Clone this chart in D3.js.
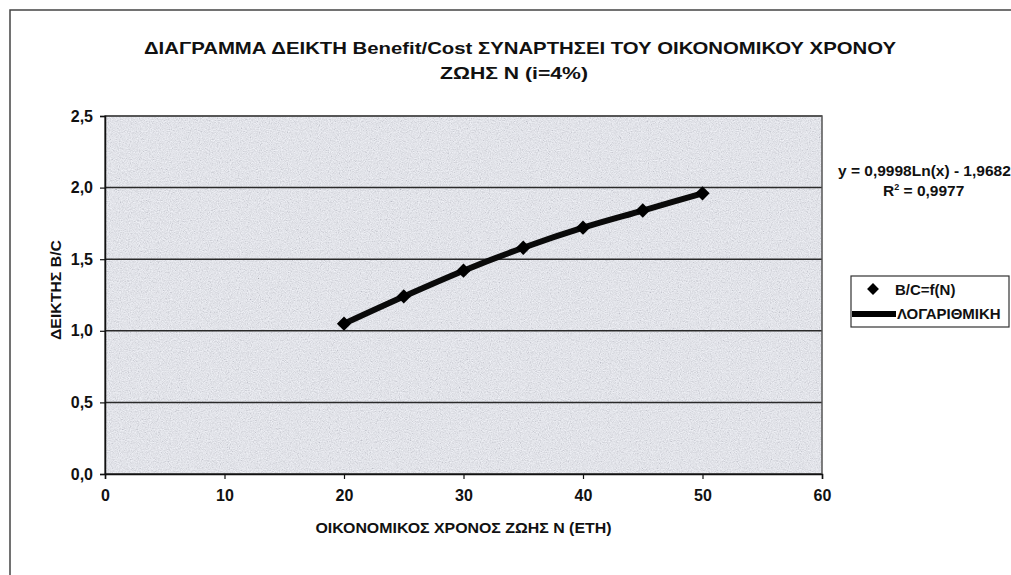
<!DOCTYPE html>
<html>
<head>
<meta charset="utf-8">
<script src="https://cdn.jsdelivr.net/npm/d3@7"></script>
<style>
  body { margin: 0; background: #fff; }
  svg { display: block; font-family: "Liberation Sans", Arial, sans-serif; }
  .tick text { font-weight: bold; font-size: 16px; fill: #111; }
  .axis-label { font-weight: bold; font-size: 14px; fill: #111; }
</style>
</head>
<body>
<div id="chart"></div>
<script>
// Data
var years = [20, 25, 30, 35, 40, 45, 50];
var bcValues = [1.05, 1.24, 1.42, 1.58, 1.72, 1.84, 1.96];
var xTicks = [0, 10, 20, 30, 40, 50, 60];
var yTicks = [0, 0.5, 1.0, 1.5, 2.0, 2.5];
var titleLines = ["ΔΙΑΓΡΑΜΜΑ ΔΕΙΚΤΗ Benefit/Cost ΣΥΝΑΡΤΗΣΕΙ ΤΟΥ ΟΙΚΟΝΟΜΙΚΟΥ ΧΡΟΝΟΥ", "ΖΩΗΣ Ν (i=4%)"];
var seriesNames = ["B/C=f(N)", "ΛΟΓΑΡΙΘΜΙΚΗ"];
var equation = "y = 0,9998Ln(x) - 1,9682";
var rSquared = "0,9977";

var points = years.map(function(d, i) { return { n: d, bc: bcValues[i] }; });

// Dimensions
var svgWidth = 1011, svgHeight = 575,
    margin = { top: 116, right: 189, bottom: 101, left: 105 },
    width = svgWidth - margin.left - margin.right,
    height = svgHeight - margin.top - margin.bottom;

// comma decimal, as in the original
var locale = d3.formatLocale({ decimal: ",", thousands: ".", grouping: [3], currency: ["", "€"] });

var svg = d3.select("#chart").append("svg")
    .attr("width", svgWidth)
    .attr("height", svgHeight);

// speckled background texture of the plot area
var defs = svg.append("defs");
var filter = defs.append("filter").attr("id", "speckle")
    .attr("x", 0).attr("y", 0).attr("width", "100%").attr("height", "100%");
filter.append("feTurbulence")
    .attr("type", "fractalNoise").attr("baseFrequency", 0.9)
    .attr("numOctaves", 2).attr("seed", 4);
filter.append("feColorMatrix")
    .attr("type", "matrix")
    .attr("values", "0.6 0.6 0.6 0 -0.35  0.6 0.6 0.6 0 -0.35  0.6 0.6 0.6 0 -0.3  0 0 0 0 0.3");

// outer chart frame (top and left edges visible)
svg.append("path")
    .attr("d", "M10,575V10H1011")
    .attr("fill", "none")
    .attr("stroke", "#444")
    .attr("stroke-width", 1.5);

var g = svg.append("g")
    .attr("transform", "translate(" + margin.left + "," + margin.top + ")");

var x = d3.scaleLinear().domain([0, 60]).range([0, width]);
var y = d3.scaleLinear().domain([0, 2.5]).range([height, 0]);

// plot area
g.append("rect")
    .attr("width", width).attr("height", height)
    .attr("fill", "#eef0f5");
g.append("rect")
    .attr("width", width).attr("height", height)
    .attr("filter", "url(#speckle)");

// gridlines
g.selectAll(".grid")
    .data(yTicks)
    .join("line")
        .attr("class", "grid")
        .attr("x1", 0).attr("x2", width)
        .attr("y1", function(d) { return y(d); })
        .attr("y2", function(d) { return y(d); })
        .attr("stroke", "#2a2a2a")
        .attr("stroke-width", 1.5);

// plot border
g.append("rect")
    .attr("width", width).attr("height", height)
    .attr("fill", "none")
    .attr("stroke", "#555")
    .attr("stroke-width", 1.5);

// axes
var xAxis = g.append("g")
    .attr("transform", "translate(0," + height + ")")
    .call(d3.axisBottom(x).tickValues(xTicks).tickSize(5).tickPadding(11).tickFormat(d3.format("d")));
var yAxis = g.append("g")
    .call(d3.axisLeft(y).tickValues(yTicks).tickSize(5).tickPadding(7).tickFormat(locale.format(".1f")));
[xAxis, yAxis].forEach(function(a) {
    a.select(".domain").attr("stroke", "#111").attr("stroke-width", 1.5);
    a.selectAll(".tick line").attr("stroke", "#111").attr("stroke-width", 1.2);
    a.attr("font-family", null).attr("font-size", null);
});

// axis titles
g.append("text")
    .attr("class", "axis-label")
    .attr("x", width / 2)
    .attr("y", height + 59)
    .attr("text-anchor", "middle")
    .attr("textLength", 296)
    .attr("lengthAdjust", "spacingAndGlyphs")
    .text("ΟΙΚΟΝΟΜΙΚΟΣ ΧΡΟΝΟΣ ΖΩΗΣ Ν (ΕΤΗ)");
g.append("text")
    .attr("class", "axis-label")
    .attr("transform", "rotate(-90)")
    .attr("x", -height / 2 + 5)
    .attr("y", -44)
    .attr("text-anchor", "middle")
    .attr("textLength", 100)
    .attr("lengthAdjust", "spacingAndGlyphs")
    .text("ΔΕΙΚΤΗΣ B/C");

// logarithmic trendline drawn through the points
var line = d3.line()
    .x(function(d) { return x(d.n); })
    .y(function(d) { return y(d.bc); })
    .curve(d3.curveMonotoneX);
g.append("path")
    .datum(points)
    .attr("fill", "none")
    .attr("stroke", "#0a0a0a")
    .attr("stroke-width", 6)
    .attr("stroke-linecap", "round")
    .attr("d", line);

// diamond markers
var diamond = d3.symbol().type(d3.symbolDiamond2).size(130);
g.selectAll(".dot")
    .data(points)
    .join("path")
        .attr("class", "dot")
        .attr("transform", function(d) { return "translate(" + x(d.n) + "," + y(d.bc) + ")"; })
        .attr("d", diamond)
        .attr("fill", "#000");

// title
var titleWidths = [752, 148];
svg.append("g").selectAll("text")
    .data(titleLines)
    .join("text")
        .attr("x", function(d, i) { return i === 0 ? 520 : 514; })
        .attr("y", function(d, i) { return 54 + i * 25; })
        .attr("text-anchor", "middle")
        .attr("font-weight", "bold")
        .attr("font-size", 17)
        .attr("fill", "#111")
        .attr("textLength", function(d, i) { return titleWidths[i]; })
        .attr("lengthAdjust", "spacingAndGlyphs")
        .text(function(d) { return d; });

// trendline equation (runs past the right edge, as in the original)
var eq = svg.append("text")
    .attr("font-weight", "bold")
    .attr("font-size", 15.5)
    .attr("fill", "#111");
eq.append("tspan").attr("x", 838).attr("y", 176).text(equation);
var r2 = eq.append("tspan").attr("x", 883).attr("y", 196);
r2.append("tspan").text("R");
r2.append("tspan").attr("dy", -6).attr("font-size", 9).text("2");
r2.append("tspan").attr("dy", 6).text(" = " + rSquared);

// legend
var legend = svg.append("g").attr("transform", "translate(851,276)");
legend.append("rect")
    .attr("width", 158).attr("height", 51)
    .attr("fill", "#fff")
    .attr("stroke", "#333")
    .attr("stroke-width", 1.2);
legend.append("path")
    .attr("transform", "translate(22,13)")
    .attr("d", d3.symbol().type(d3.symbolDiamond2).size(90))
    .attr("fill", "#000");
legend.append("line")
    .attr("x1", 1).attr("x2", 45)
    .attr("y1", 38).attr("y2", 38)
    .attr("stroke", "#000").attr("stroke-width", 6);
legend.selectAll(".legend-text")
    .data(seriesNames)
    .join("text")
        .attr("class", "legend-text")
        .attr("x", function(d, i) { return i === 0 ? 44 : 46; })
        .attr("y", function(d, i) { return 19 + i * 24; })
        .attr("font-weight", "bold")
        .attr("font-size", 15)
        .attr("fill", "#111")
        .text(function(d) { return d; });
</script>
</body>
</html>
